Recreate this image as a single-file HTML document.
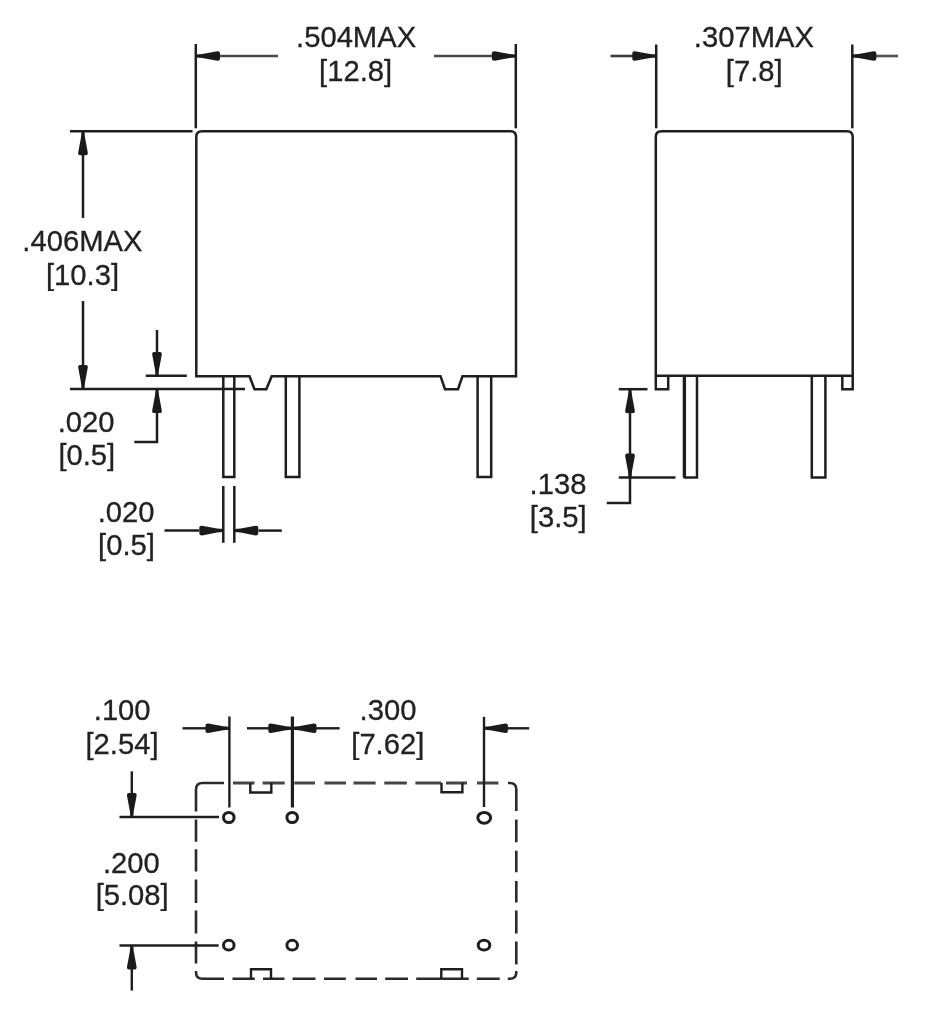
<!DOCTYPE html>
<html><head><meta charset="utf-8"><title>Relay dimensions</title>
<style>
html,body{margin:0;padding:0;background:#fff;}
body{width:928px;height:1024px;overflow:hidden;}
svg{display:block;filter:grayscale(1);}
text{font-family:"Liberation Sans",Arial,sans-serif;font-size:29.2px;fill:#222;stroke:#222;stroke-width:0.3;text-anchor:middle;opacity:0.999;}
.l{stroke:#1e1e1e;stroke-width:2.5;fill:none;stroke-linecap:butt;stroke-linejoin:miter;}
.g{stroke:#2a2a2a;stroke-width:2.6;fill:none;}
.a{fill:#1a1a1a;stroke:none;}
</style></head><body>
<svg width="928" height="1024" viewBox="0 0 928 1024">
<rect width="928" height="1024" fill="#fff"/>
<defs><path id="ah" d="M0,-1.5 L6,-2 L21,-4.8 Q23.7,-5 23.7,-3 V3 Q23.7,5 21,4.8 L6,2 L0,1.5 Z"/></defs>

<!-- ===== FRONT VIEW ===== -->
<g class="l">
<!-- body -->
<path d="M196.3,376.2 V137 Q196.3,131.3 202,131.3 H510.5 Q516,131.3 516,137 V376.2 H462.5 L458,389.2 H445 L440.5,376.2 H271.7 L266.3,389.2 H254.5 L249.5,376.2 Z"/>
<!-- pins -->
<path d="M223.3,376.2 V477 H234.3 V376.2"/>
<path d="M285.8,376.2 V477 H299.4 V376.2"/>
<path d="M477.6,376.2 V477 H491.2 V376.2"/>
<!-- top ext lines -->
<path d="M195.8,44 V128.3"/>
<path d="M515.8,44 V128.3"/>
<path d="M220,56 H278" style="stroke:#484848;stroke-width:2.7"/>
<path d="M434,56 H493" style="stroke:#484848;stroke-width:2.7"/>
<!-- left ext lines -->
<path d="M70,131.3 H192.5"/>
<path d="M70,388.9 H245"/>
<path d="M83,154 V218"/>
<path d="M83,301 V367"/>
<!-- .020 vertical small -->
<path d="M145.8,375.8 H186.8"/>
<path d="M157,330 V354"/>
<path d="M157,411 V442 H134.3"/>
<!-- .020 horizontal small -->
<path d="M223.3,486 V542.8"/>
<path d="M234.3,486 V542.8"/>
<path d="M164.5,530.6 H199"/>
<path d="M258.5,530.6 H281.8"/>
</g>
<g class="a">
<use href="#ah" transform="translate(196.3,56) rotate(0)"/>
<use href="#ah" transform="translate(515.6,56) rotate(180)"/>
<use href="#ah" transform="translate(83,131.6) rotate(90)"/>
<use href="#ah" transform="translate(83,388.6) rotate(-90)"/>
<use href="#ah" transform="translate(157,375.6) rotate(-90)"/>
<use href="#ah" transform="translate(157,389.4) rotate(90)"/>
<use href="#ah" transform="translate(223,530.6) rotate(180)"/>
<use href="#ah" transform="translate(234.6,530.6) rotate(0)"/>
</g>
<text x="356.1" y="47.0">.504MAX</text>
<text x="355.6" y="81.1">[12.8]</text>
<text x="82.4" y="251.0">.406MAX</text>
<text x="82.5" y="284.6">[10.3]</text>
<text x="86.1" y="432.2">.020</text>
<text x="86.8" y="465.4">[0.5]</text>
<text x="126.1" y="521.6">.020</text>
<text x="126.5" y="554.9">[0.5]</text>

<!-- ===== SIDE VIEW ===== -->
<g class="l">
<path d="M668.2,375.8 V389.2 H655.8 V137 Q655.8,131.3 661.5,131.3 H847 Q852.7,131.3 852.7,137 V389.2 H842.3 V375.8"/>
<path d="M655.8,375.8 H852.7"/>
<path d="M684.8,375.8 V477.4 H697 V375.8" />
<path d="M811.8,375.8 V477.4 H825.4 V375.8"/>
<path d="M656.2,44.5 V128.3"/>
<path d="M852.3,44.5 V128.3"/>
<path d="M610.5,56 H633" style="stroke:#3a3a3a;stroke-width:2.6"/>
<path d="M875,56 H898" style="stroke:#555;stroke-width:2.7"/>
<!-- .138 -->
<path d="M618.8,389.2 H647.5"/>
<path d="M618.8,477.4 H675.5"/>
<path d="M630,411 V503 H606.8"/>
</g>
<path d="M684.3,375.8 V477.4" stroke="#1e1e1e" stroke-width="3.2" fill="none"/>
<g class="a">
<use href="#ah" transform="translate(656,56) rotate(180)"/>
<use href="#ah" transform="translate(852.6,56) rotate(0)"/>
<use href="#ah" transform="translate(630,389.4) rotate(90)"/>
<use href="#ah" transform="translate(630,477.2) rotate(-90)"/>
</g>
<text x="753.9" y="47.0">.307MAX</text>
<text x="754.2" y="81.1">[7.8]</text>
<text x="558.0" y="494.2">.138</text>
<text x="558.2" y="527.4">[3.5]</text>

<!-- ===== BOTTOM VIEW ===== -->
<g class="g">
<!-- corners -->
<path d="M196,811.5 V789.5 Q196,783 202.5,783 H224"/>
<path d="M508,783 H509.8 Q516.3,783 516.3,789.5 V811"/>
<path d="M196,971 V972.3 Q196,978.8 202.5,978.8 H224"/>
<path d="M516.3,971 V972.3 Q516.3,978.8 509.8,978.8 H507.8"/>
<!-- left dashes -->
<path d="M196,819.6 V841.8 M196,849.2 V871.5 M196,879.5 V903 M196,910.5 V933.5 M196,941.6 V963.5"/>
<!-- right dashes -->
<path d="M516.3,819.6 V842.2 M516.3,850.8 V872.2 M516.3,881 V902.5 M516.3,910.6 V933.5 M516.3,941.6 V964.5"/>
<!-- top dashes -->
<path style="stroke:#454545;stroke-width:2.8" d="M233,783 H254.5 M262.6,783 H284.7 M294.4,783 H315 M324.5,783 H346 M353.5,783 H375.6 M384.3,783 H406.8 M415.4,783 H441.3 M446,783 H467 M477,783 H498.4"/>
<!-- bottom dashes -->
<path d="M232.5,978.8 H254.8 M263,978.8 H284.5 M292.6,978.8 H315.5 M324,978.8 H345.8 M355.5,978.8 H377 M385.2,978.8 H408 M416.2,978.8 H441 M441,978.8 H468.7 M476.8,978.8 H499.7"/>
</g>
<g class="l" style="stroke-width:2.4">
<!-- notches -->
<path d="M250.3,783 V792.5 H271.3 V783"/>
<path d="M441.5,783 V792.3 H462.4 V783"/>
<path d="M251,978.8 V969.2 H271,978.8" style="display:none"/>
<path d="M251,978.8 V969.2 H271 V978.8"/>
<path d="M441.3,978.8 V969.2 H462 V978.8"/>
<!-- ext lines -->
<path d="M229.4,716.5 V807.5"/>
<path d="M484,716.8 V807"/>
<path d="M119.5,817 H219"/>
<path d="M119.5,945.5 H218.6"/>
<path d="M182.5,728.3 H206"/>
<path d="M247,728.3 H270"/>
<path d="M315,728.3 H339.6"/>
<path d="M506.5,728.3 H529.2"/>
<path d="M131.8,771.3 V794"/>
<path d="M131.8,968 V990.6"/>
</g>
<path d="M292.4,716.5 V807.5" stroke="#1e1e1e" stroke-width="3.2" fill="none"/>
<g fill="none" stroke="#1e1e1e" stroke-width="3">
<ellipse cx="228.8" cy="817.5" rx="5.3" ry="5"/>
<ellipse cx="292.2" cy="817.5" rx="5.3" ry="5"/>
<ellipse cx="484.2" cy="817.8" rx="6.4" ry="5.4"/>
<ellipse cx="228.8" cy="945.2" rx="5.3" ry="4.9"/>
<ellipse cx="292.2" cy="945.2" rx="5.3" ry="4.9"/>
<ellipse cx="484" cy="945.2" rx="5.8" ry="4.9"/>
</g>
<g class="a">
<use href="#ah" transform="translate(229.2,728.3) rotate(180)"/>
<use href="#ah" transform="translate(292,728.3) rotate(180)"/>
<use href="#ah" transform="translate(292.8,728.3) rotate(0)"/>
<use href="#ah" transform="translate(484.2,728.3) rotate(0)"/>
<use href="#ah" transform="translate(131.8,816.8) rotate(-90)"/>
<use href="#ah" transform="translate(131.8,945.7) rotate(90)"/>
</g>
<text x="122.2" y="720.0">.100</text>
<text x="122.0" y="754.1">[2.54]</text>
<text x="388.0" y="720.0">.300</text>
<text x="387.8" y="753.6">[7.62]</text>
<text x="131.4" y="872.5">.200</text>
<text x="132.2" y="904.6">[5.08]</text>
</svg>
</body></html>
